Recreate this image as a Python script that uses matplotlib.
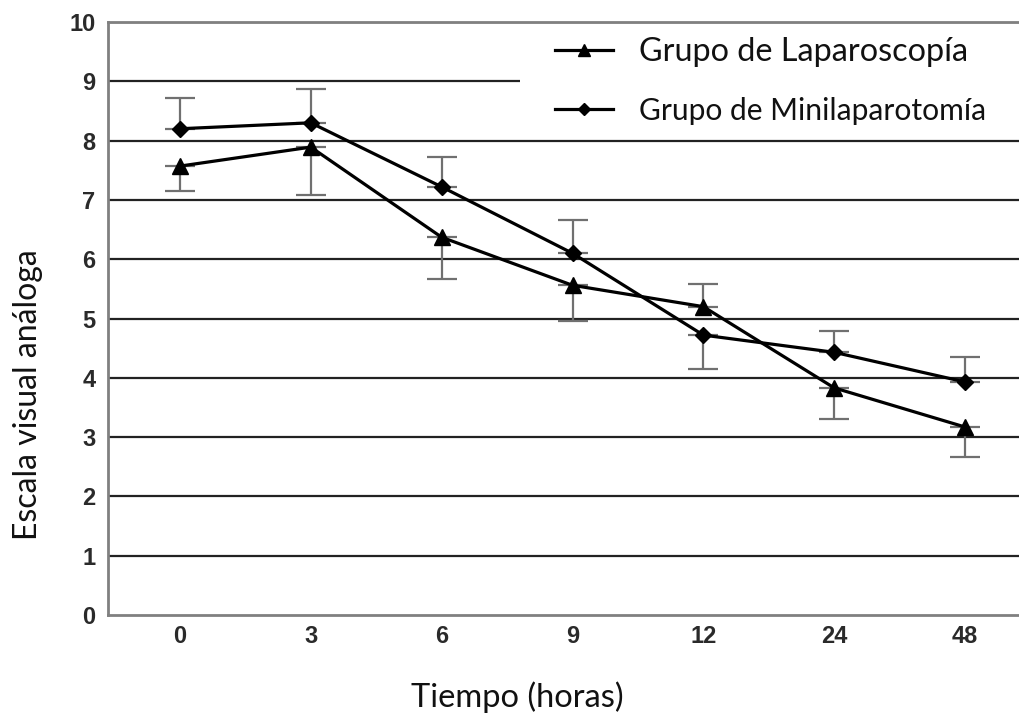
import matplotlib
matplotlib.use("Agg")
import matplotlib.pyplot as plt
from matplotlib.patches import Rectangle
import numpy as np

categories = ["0", "3", "6", "9", "12", "24", "48"]
lap_values = [7.57, 7.89, 6.37, 5.56, 5.2, 3.83, 3.17]
lap_err_lower = [0.42, 0.81, 0.70, 0.60, 0.0, 0.53, 0.51]
lap_err_upper = [0.0, 0.0, 0.0, 0.0, 0.38, 0.0, 0.0]
mini_values = [8.2, 8.3, 7.22, 6.1, 4.72, 4.43, 3.93]
mini_err_lower = [0.0, 0.0, 0.0, 0.0, 0.57, 0.0, 0.0]
mini_err_upper = [0.52, 0.57, 0.5, 0.56, 0.0, 0.36, 0.42]
yticks = list(range(0, 11))

W, H = 1020, 720
fig = plt.figure(figsize=(10.2, 7.2), dpi=100)
ax = fig.add_axes([108/W, 105/H, 1 - 108/W, (615-22)/H])

x = np.arange(len(categories))
for yv in yticks[1:]:
    ax.axhline(yv, color="#222222", lw=1.6, zorder=1)

ax.errorbar(x, lap_values, yerr=[lap_err_lower, lap_err_upper], fmt="none",
            ecolor="#707070", elinewidth=1.6, capsize=11, capthick=1.6, zorder=2)
ax.errorbar(x, mini_values, yerr=[mini_err_lower, mini_err_upper], fmt="none",
            ecolor="#707070", elinewidth=1.6, capsize=11, capthick=1.6, zorder=2)
ax.plot(x, lap_values, color="black", lw=2.3, marker="^", ms=11,
        label="Grupo de Laparoscopía", zorder=3)
ax.plot(x, mini_values, color="black", lw=2.3, marker="D", ms=8,
        label="Grupo de Minilaparotomía", zorder=3)

ax.set_xlim(-0.55, 6.42)
ax.set_ylim(0, 10)
ax.set_yticks(yticks)
ax.set_xticks(x)
ax.set_xticklabels(categories)
ax.tick_params(length=0)
ax.tick_params(axis="y", pad=9)
ax.tick_params(axis="x", pad=7)
for lab in ax.get_xticklabels() + ax.get_yticklabels():
    lab.set_fontweight("bold")
    lab.set_family("Liberation Sans")
    lab.set_fontsize(17)
    lab.set_color("#2a2a2a")

for s in ["left", "bottom", "top"]:
    ax.spines[s].set_color("#808080")
    ax.spines[s].set_linewidth(2)
    ax.spines[s].set_zorder(4)
ax.spines["right"].set_visible(False)

# legend box covering the grid line behind it
box = Rectangle((520/W, (H-130)/H), 1 - 520/W, 100/H, transform=fig.transFigure,
                facecolor="white", edgecolor="none", zorder=1.5, clip_on=False)
ax.add_patch(box)

fig.text(28/W, 1 - 395/H, "Escala visual análoga", rotation=90, ha="center",
         va="center", fontsize=23, family="Lato", color="#111111")
fig.text(517/W, 1 - 697/H, "Tiempo (horas)", ha="center", va="center",
         fontsize=23.5, family="Lato", color="#111111")

leg = ax.legend(loc="center left", bbox_to_anchor=(555/W, 1 - 81/H),
                bbox_transform=fig.transFigure, frameon=False,
                prop={"family": "Lato", "size": 22.5},
                handlelength=1.85, handletextpad=0.85, labelspacing=0.95,
                borderpad=0.0, borderaxespad=0.0, markerscale=0.75)
leg.set_zorder(5)
texts = leg.get_texts()
texts[0].set_fontsize(23.3)
texts[1].set_fontsize(21.6)
for t in texts:
    t.set_color("#111111")

fig.savefig("out.png", dpi=100)
